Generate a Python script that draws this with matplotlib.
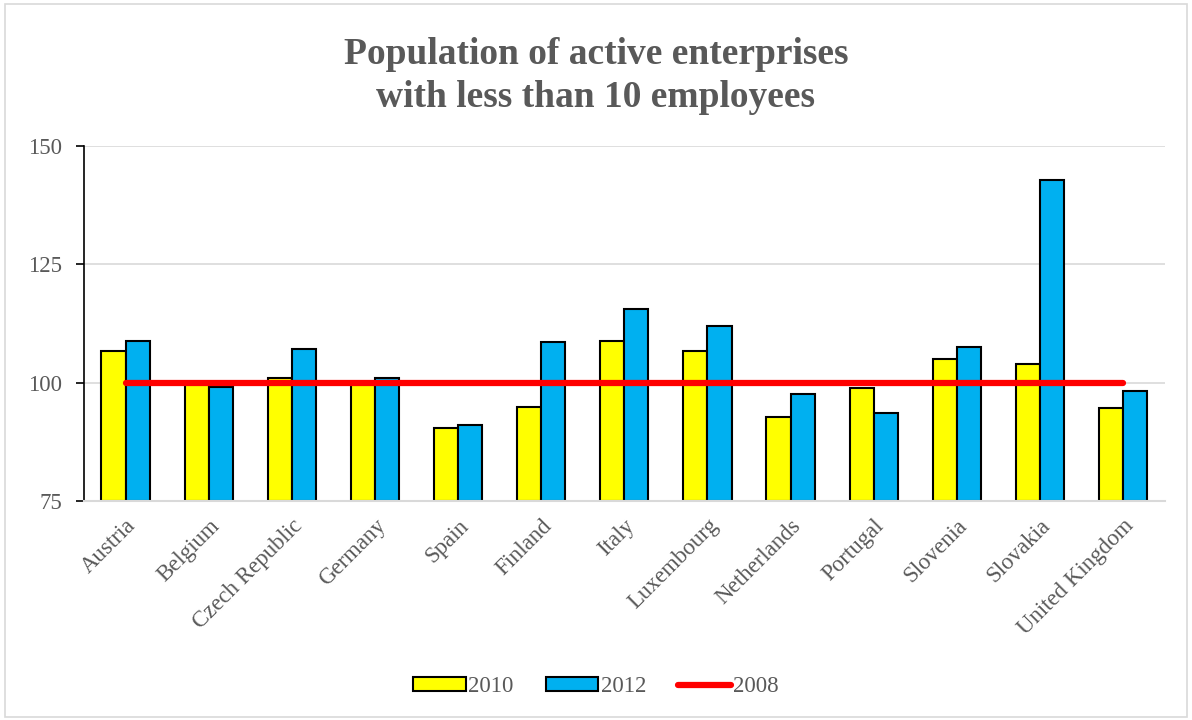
import numpy as np
import matplotlib.pyplot as plt
from matplotlib.patches import Rectangle


# =============================================================================
# Data: index of active enterprises with < 10 employees (2008 = 100)
# =============================================================================

countries = [
    "Austria", "Belgium", "Czech Republic", "Germany", "Spain", "Finland",
    "Italy", "Luxembourg", "Netherlands", "Portugal", "Slovenia", "Slovakia",
    "United Kingdom",
]

values_2010 = [106.8, 100.0, 101.0, 100.2, 90.4, 94.8,
               108.8, 106.8, 92.8, 99.0, 105.1, 103.9, 94.6]
values_2012 = [108.9, 99.2, 107.1, 101.1, 91.1, 108.7,
               115.6, 112.1, 97.6, 93.6, 107.5, 142.8, 98.3]
values_2008 = [100] * len(countries)

y_ticks = [75, 100, 125, 150]


# --------------------------------------------------
# Figure
# --------------------------------------------------

plt.rcParams["font.family"] = ["Liberation Serif", "DejaVu Serif"]
text_grey = "#595959"

figure = plt.figure(figsize=(11.92, 7.2), dpi=100)
axis = figure.add_axes([0.0705, 0.304, 0.9065, 0.493])

x = np.arange(len(countries))
bar_width = 0.29

bars_2010 = axis.bar(x - bar_width / 2, np.array(values_2010) - 75, bar_width,
                     bottom=75, color="#FFFF00", edgecolor="black",
                     linewidth=1.5, label="2010", zorder=2)
bars_2012 = axis.bar(x + bar_width / 2, np.array(values_2012) - 75, bar_width,
                     bottom=75, color="#00B0F0", edgecolor="black",
                     linewidth=1.5, label="2012", zorder=2)
line_2008, = axis.plot(x, values_2008, color="#FF0000", linewidth=4.5,
                       solid_capstyle="round", label="2008", zorder=3)

axis.set_xlim(-0.5, len(countries) - 0.5)
axis.set_ylim(75, 150)
axis.set_yticks(y_ticks)
axis.set_xticks(x)
axis.set_xticklabels(countries, rotation=45, ha="right",
                     rotation_mode="anchor", fontsize=16.5, color=text_grey)
axis.tick_params(axis="x", length=0, pad=10)
axis.tick_params(axis="y", labelsize=16.5, labelcolor=text_grey,
                 direction="out", length=6, width=1.2, color="black", pad=10)

axis.yaxis.grid(True, color="#d9d9d9", linewidth=1.2, zorder=0)
axis.set_axisbelow(True)

for side in ["top", "right"]:
    axis.spines[side].set_visible(False)
axis.spines["left"].set_color("black")
axis.spines["left"].set_linewidth(1.2)
axis.spines["bottom"].set_color("#d9d9d9")
axis.spines["bottom"].set_linewidth(1.5)

figure.text(0.5, 0.895,
            "Population of active enterprises\nwith less than 10 employees",
            ha="center", va="center", fontsize=27, fontweight="bold",
            color=text_grey, linespacing=1.3)

legend = figure.legend(handles=[bars_2010, bars_2012, line_2008],
                       loc="center", bbox_to_anchor=(0.5, 0.046), ncol=3,
                       frameon=False, fontsize=16.5, handlelength=2.3,
                       handleheight=0.55, handletextpad=0.1,
                       columnspacing=1.4)
for text in legend.get_texts():
    text.set_color(text_grey)

# Light border around the whole chart
figure.patches.append(Rectangle((0.004, 0.004), 0.992, 0.99,
                                transform=figure.transFigure, fill=False,
                                edgecolor="#d9d9d9", linewidth=1.2))

plt.savefig("out.png", dpi=100)
